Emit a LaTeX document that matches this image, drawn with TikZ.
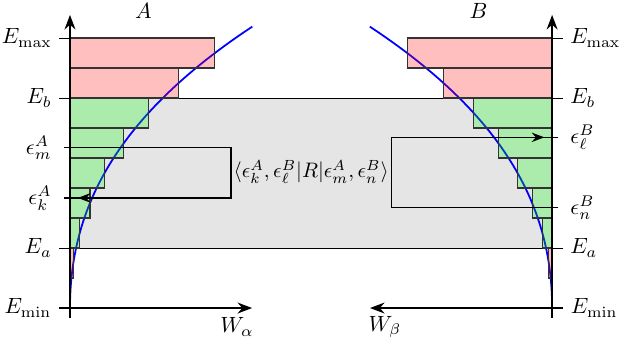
\documentclass[tikz,border=0pt]{standalone}
\usepackage{amssymb}
\usepackage{amsmath}
\usetikzlibrary{arrows.meta}
\usetikzlibrary{decorations.markings}
\newcommand{\leftlabel}[2]{node[left] (#1) {$#2$}}
\newcommand{\rightlabel}[2]{node[right] (#1) {$#2$}}
\newcommand{\dosw}[1]{(0.0456*(#1)^2+0.0025*(#1)^3)}
\tikzset{
  redbar/.style={draw=black!80,line width=0.5pt,fill=red,fill opacity=0.25},
  greenbar/.style={draw=black!80,line width=0.5pt,fill=green,fill opacity=0.25},
  level/.style={black,thin},
  axis/.style={black,thick,-{Stealth}},
  doscurve/.style={blue,thick},
  elbox/.style={black,semithick,postaction={decorate},
    decoration={markings,mark=at position -0.22cm with {\arrow{Stealth}}}}
}

\begin{document}
\begin{tikzpicture}[x=0.478cm,y=0.478cm]
    \useasboundingbox (-2.333,-1.367) rectangle (18.433,10.267);
    \coordinate (oA) at (0,0);
    \coordinate (oB) at (16.07,0);
    % window between E_a and E_b
    \fill[gray!20] (0,2) rectangle (16.07,7);
    \draw[level] (-0.35,2) \leftlabel{EaA}{E_a} -- (16.42,2) \rightlabel{EaB}{E_a};
    \draw[level] (-0.35,7) \leftlabel{EbA}{E_b} -- (16.42,7) \rightlabel{EbB}{E_b};
    \draw[level] (-0.35,9) \leftlabel{EmaxA}{E_{\max}} -- (0.35,9);
    \draw[level] (15.72,9) -- (16.42,9) \rightlabel{EmaxB}{E_{\max}};
    % densities of states
    \draw[doscurve] plot[domain=0:9.38,samples=60] ({\dosw{\x}},\x);
    \draw[doscurve] plot[domain=0:9.38,samples=60] ({16.07-\dosw{\x}},\x);
    \foreach \k/\col in {1/redbar,2/greenbar,3/greenbar,4/greenbar,5/greenbar,6/greenbar,7/redbar,8/redbar}{
        \pgfmathsetmacro\w{\dosw{\k+0.5}}
        \draw[\col] (0,\k) rectangle (\w,\k+1);
        \draw[\col] (16.07,\k) rectangle (16.07-\w,\k+1);
    }
    % matrix element
    \coordinate (mA) at (-0.2,5.34);
    \coordinate (kA) at (-0.2,3.67);
    \coordinate (nB) at (16.27,3.34);
    \coordinate (lB) at (16.27,5.69);
    \draw[elbox] (mA) -- (5.37,5.34) -- (5.37,3.67) -- (kA);
    \draw[elbox] (nB) -- (10.72,3.34) -- (10.72,5.69) -- (lB);
    \node[left] (mAlab) at (-0.35,5.34) {$\epsilon^A_m$};
    \node[left] (kAlab) at (-0.35,3.67) {$\epsilon^A_k$};
    \node[right] (lBlab) at (16.42,5.69) {$\epsilon^B_\ell$};
    \node[right] (nBlab) at (16.42,3.34) {$\epsilon^B_n$};
    \node[inner sep=0.5pt,scale=0.95] (melem) at (8.04,4.53) {$\langle\epsilon^A_k,\epsilon^B_\ell|R|\epsilon^A_m,\epsilon^B_n\rangle$};
    % axes
    \draw[axis] (0,-0.33) -- (0,9.77);
    \draw[axis] (16.07,-0.33) -- (16.07,9.77);
    \draw[axis] (-0.35,0) \leftlabel{EminA}{E_{\min}} -- (6.07,0);
    \draw[axis] (16.42,0) \rightlabel{EminB}{E_{\min}} -- (10,0);
    \node (labA) at (2.45,9.9) {$A$};
    \node (labB) at (13.62,9.9) {$B$};
    \node (Wa) at (5.57,-0.63) {$W_\alpha$};
    \node (Wb) at (10.5,-0.63) {$W_\beta$};
\end{tikzpicture}
\end{document}
